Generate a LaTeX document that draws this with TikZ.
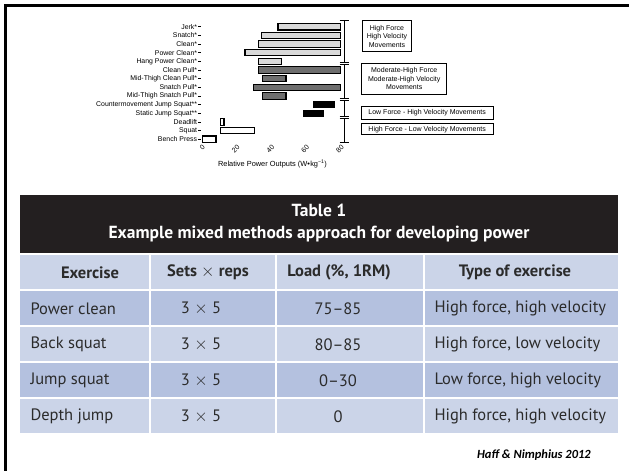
\documentclass[tikz,border=0pt]{standalone}
\usepackage{fontspec}
\setmainfont{Liberation Sans}
\newfontfamily\tabfont{PT Sans}
\newfontfamily\creditfont{Carlito}
\definecolor{hdrblack}{HTML}{231F20}
\definecolor{rowdark}{HTML}{B4C1DF}
\definecolor{rowlight}{HTML}{CBD4E8}
\definecolor{tabtext}{HTML}{2B2B2B}
\definecolor{barlightfill}{HTML}{D9D9D9}
\definecolor{bardarkfill}{HTML}{6E6E6E}
\begin{document}
\begin{tikzpicture}[x=1pt,y=-1pt,
  rowlab/.style={anchor=east,inner sep=0pt,font=\fontsize{6.9}{7}\selectfont},
  ticklab/.style={anchor=east,rotate=45,inner sep=0pt,font=\fontsize{7}{7}\selectfont},
  ytick/.style={line width=0.6pt},
  bar/.style={draw=black,line width=1.2pt},
  barlight/.style={fill=barlightfill},
  bardark/.style={fill=bardarkfill},
  barblack/.style={fill=black},
  barwhite/.style={fill=white},
  brk/.style={line width=1.4pt},
  groupbox/.style={draw=black,line width=0.9pt,align=center,inner sep=0pt,
    font=\fontsize{7}{8.4}\selectfont},
  hdrtxt/.style={text=white,font=\tabfont\bfseries\fontsize{17.5}{19}\selectfont},
  colhead/.style={text=tabtext,font=\tabfont\bfseries\fontsize{16.5}{18}\selectfont},
  celltxt/.style={text=tabtext,font=\tabfont\fontsize{16.5}{18}\selectfont},
]
\useasboundingbox (0,0) rectangle (629,471);
\fill[white] (0,0) rectangle (629,471);

% page frame (left and top rules)
\draw[line width=2.6pt] (5.3,471) -- (5.3,5.3) -- (629,5.3);

% ---------------- bar chart ----------------
% x axis: 0 at 201.5, 1 unit = 1.7375
\foreach \i/\lab/\a/\b/\st in {
  0/Jerk*/44/80/barlight,
  1/Snatch*/34.4/80/barlight,
  2/Clean*/33/80/barlight,
  3/Power Clean*/25/80/barlight,
  4/Hang Power Clean*/33/46/barlight,
  5/Clean Pull*/33/80/bardark,
  6/Mid-Thigh Clean Pull*/35/48.6/bardark,
  7/Snatch Pull*/30/80/bardark,
  8/Mid-Thigh Snatch Pull*/35/48.6/bardark,
  9/Countermovement Jump Squat**/64.6/76.2/barblack,
  10/Static Jump Squat**/58.5/70/barblack,
  11/Deadlift/11/13/barwhite,
  12/Squat/11/30.3/barwhite,
  13/Bench Press/0.5/8.4/barwhite}{
  \pgfmathsetmacro\yy{26.7+\i*8.66}
  \node[rowlab] (lab\i) at (197.3,\yy) {\lab};
  \draw[ytick] (198.3,\yy) -- (201.3,\yy);
  \draw[bar,\st] ({201.5+\a*1.7375},\yy-3.2) rectangle ({201.5+\b*1.7375},\yy+3.2);
}

% rotated tick labels
\foreach \v in {0,20,40,60,80}{
  \node[ticklab] (tl\v) at ({201.5+\v*1.7375+2.4},146) {\v};
}
\node[inner sep=0pt,font=\fontsize{7.4}{8}\selectfont] (xtitle) at (272.5,163.5)
  {Relative Power Outputs (W\kern0.2pt•\kern0.2pt kg\textsuperscript{\char"2212 1})};

% grouping bracket
\foreach \t/\bb in {20.7/62.4, 64.4/98.7, 100.7/116.7, 118.7/142.7}{
  \draw[brk] (344.3,\t) -- (344.3,\bb);
  \draw[brk] (339.6,\t) -- (349,\t);
  \draw[brk] (339.6,\bb) -- (349,\bb);
}

% group boxes
\node[groupbox,minimum width=49.4pt,minimum height=31pt] (g1) at (387,36.2)
  {High Force\\High Velocity\\Movements};
\node[groupbox,minimum width=85pt,minimum height=31pt] (g2) at (404.2,78.8)
  {Moderate-High Force\\Moderate-High Velocity\\Movements};
\node[groupbox,line width=1.1pt,minimum width=132.3pt,minimum height=12.3pt] (g3) at (427.2,112.9)
  {Low Force - High Velocity Movements};
\node[groupbox,line width=1.1pt,minimum width=132.3pt,minimum height=11pt] (g4) at (427.2,129.2)
  {High Force - Low Velocity Movements};

% ---------------- table ----------------
\fill[hdrblack] (20,195) rectangle (618,252.7);
\node[hdrtxt] (ttl1) at (319,210.5) {Table 1};
\node[hdrtxt] (ttl2) at (319,234) {Example mixed methods approach for developing power};

% row bands (header row + 4 body rows), four columns each
\foreach \r/\top/\col in {0/255/rowlight,1/291.1/rowdark,2/327.1/rowlight,3/363.2/rowdark,4/399.3/rowlight}{
  \foreach \x/\xx in {20/148.6,150.6/275,277/423,425/618}{
    \fill[\col] (\x,\top) rectangle (\xx,\top+34.05);
  }
}

% column headings
\node[colhead] (h1) at (90,272.5) {Exercise};
\node[colhead] (h2) at (208,272.5) {Sets $\times$ reps};
\node[colhead] (h3) at (339,272.5) {Load (\%, 1RM)};
\node[colhead] (h4) at (515,272.5) {Type of exercise};

% body
\foreach \r/\ex/\ld/\ty in {1/Power clean/75–85/{High force, high velocity},
                            2/Back squat/80–85/{High force, low velocity},
                            3/Jump squat/0–30/{Low force, high velocity},
                            4/Depth jump/0/{High force, high velocity}}{
  \pgfmathsetmacro\yc{272.5+\r*36.1}
  \node[celltxt,anchor=west] (ex\r) at (27,\yc) {\ex};
  \node[celltxt] (sr\r) at (201,\yc) {3 $\times$ 5};
  \node[celltxt] (ld\r) at (338,\yc) {\ld};
  \node[celltxt,anchor=west] (ty\r) at (431,\yc) {\ty};
}

\node[anchor=east,inner sep=0pt,font=\creditfont\bfseries\itshape\fontsize{12.5}{14}\selectfont] (credit) at (591,455) {Haff \& Nimphius 2012};
\end{tikzpicture}
\end{document}
